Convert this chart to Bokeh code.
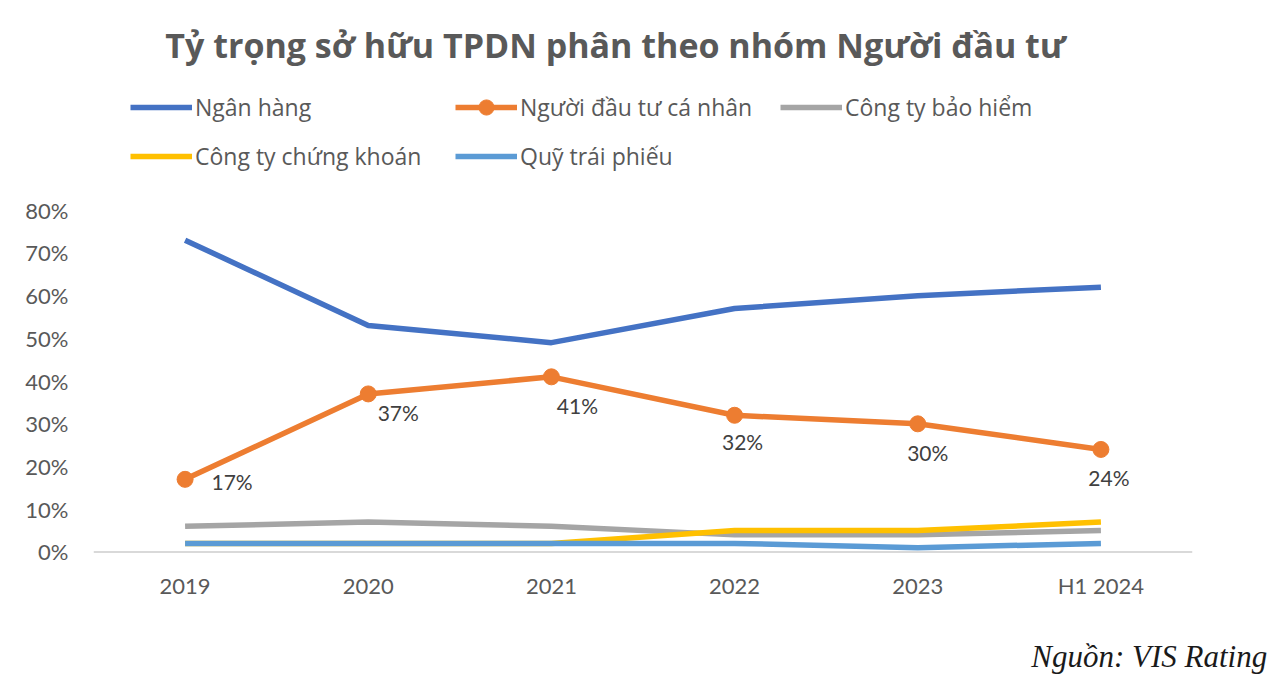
from bokeh.plotting import figure
from bokeh.models import (ColumnDataSource, Range1d, FixedTicker, NumeralTickFormatter,
                          Span, Label, Legend, LegendItem, LinearAxis)
from bokeh.embed import file_html
from bokeh.resources import INLINE
from bokeh.core.properties import value

# ---------------- data ----------------
categories = ["2019", "2020", "2021", "2022", "2023", "H1 2024"]
ngan_hang = [0.73, 0.53, 0.49, 0.57, 0.60, 0.62]
ca_nhan = [0.17, 0.37, 0.41, 0.32, 0.30, 0.24]
bao_hiem = [0.06, 0.07, 0.06, 0.04, 0.04, 0.05]
chung_khoan = [0.02, 0.02, 0.02, 0.05, 0.05, 0.07]
quy_trai_phieu = [0.02, 0.02, 0.02, 0.02, 0.01, 0.02]
ca_nhan_labels = ["17%", "37%", "41%", "32%", "30%", "24%"]
y_ticks = [0.0, 0.1, 0.2, 0.3, 0.4, 0.5, 0.6, 0.7, 0.8]

title_text = "Tỷ trọng sở hữu TPDN phân theo nhóm Người đầu tư"
source_text = "Nguồn: VIS Rating"

# label offsets (screen px, y down) for the data labels of the individual-investor line
label_dx = [47, 30, 26, 8, 10, 8]
label_dy = [2, 19, 29, 26, 29, 28]

FONT = "Lato"
xs = list(range(len(categories)))

p = figure(width=1272, height=676, output_backend="svg", toolbar_location=None,
           x_range=Range1d(-0.5, 5.5), y_range=Range1d(-0.02, 1.27),
           min_border_left=93, min_border_right=80, min_border_top=9,
           min_border_bottom=115)
p.outline_line_color = None
p.grid.visible = False
p.background_fill_color = "white"

# axes
p.xaxis.ticker = FixedTicker(ticks=xs)
p.xaxis.major_label_overrides = {i: c for i, c in enumerate(categories)}
p.yaxis.ticker = FixedTicker(ticks=y_ticks)
p.yaxis.formatter = NumeralTickFormatter(format="0%")
for ax in (p.xaxis, p.yaxis):
    ax.axis_line_color = None
    ax.major_tick_line_color = None
    ax.minor_tick_line_color = None
    ax.major_tick_out = 0
    ax.major_tick_in = 0
    ax.minor_tick_out = 0
    ax.major_label_text_font = FONT
    ax.major_label_text_font_size = "22px"
    ax.major_label_text_color = "#595959"
p.xaxis.major_label_standoff = 11
p.yaxis.major_label_standoff = 25

p.add_layout(Span(location=0, dimension="width", line_color="#d9d9d9", line_width=2))

src = ColumnDataSource(dict(x=xs, nh=ngan_hang, cn=ca_nhan, bh=bao_hiem,
                            ck=chung_khoan, q=quy_trai_phieu, lab=ca_nhan_labels,
                            dx=label_dx, dy=label_dy))

r_nh = p.line("x", "nh", source=src, line_color="#4472C4", line_width=5.5)
r_cn = p.line("x", "cn", source=src, line_color="#ED7D31", line_width=5.5)
r_cnm = p.scatter("x", "cn", source=src, size=16, fill_color="#ED7D31", line_color="#ED7D31")
r_bh = p.line("x", "bh", source=src, line_color="#A5A5A5", line_width=5.5)
r_ck = p.line("x", "ck", source=src, line_color="#FFC000", line_width=5.5)
r_q = p.line("x", "q", source=src, line_color="#5B9BD5", line_width=5.5)

p.text("x", "cn", text="lab", source=src, x_offset="dx", y_offset="dy",
       text_font=value(FONT), text_font_size="21px", text_color="#404040",
       text_align="center", text_baseline="middle")

# legends (one per item to match the grid placement)
legend_specs = [
    ("Ngân hàng", [r_nh], 37, 434),
    ("Người đầu tư cá nhân", [r_cn, r_cnm], 362, 434),
    ("Công ty bảo hiểm", [r_bh], 687, 434),
    ("Công ty chứng khoán", [r_ck], 37, 385),
    ("Quỹ trái phiếu", [r_q], 362, 385),
]
for lbl, rs, lx, ly in legend_specs:
    lg = Legend(items=[LegendItem(label=lbl, renderers=rs)], location=(lx, ly),
                orientation="horizontal", glyph_width=62, glyph_height=38,
                label_height=38, label_standoff=3, padding=0, margin=0, spacing=0,
                border_line_color=None, background_fill_alpha=0,
                label_text_font="Open Sans", label_text_font_size="23px",
                label_text_color="#595959", label_text_baseline="middle")
    p.add_layout(lg, "center")

p.add_layout(Label(x=2.35, y=1.186, text=title_text, text_font="Open Sans",
                   text_font_style="bold", text_font_size="34px",
                   text_color="#595959", text_align="center", text_baseline="middle"))

# source note as a second, label-only axis below the category axis
src_tick = 5.264
src_axis = LinearAxis(ticker=FixedTicker(ticks=[src_tick]),
                      major_label_overrides={src_tick: source_text},
                      axis_line_color=None, major_tick_line_color=None,
                      minor_tick_line_color=None, major_tick_out=0, major_tick_in=0,
                      minor_tick_out=0, major_label_standoff=37,
                      major_label_text_font="Liberation Serif",
                      major_label_text_font_style="italic",
                      major_label_text_font_size="31px",
                      major_label_text_color="#1a1a1a")
p.add_layout(src_axis, "below")

open("out.html", "w").write(file_html(p, INLINE))
